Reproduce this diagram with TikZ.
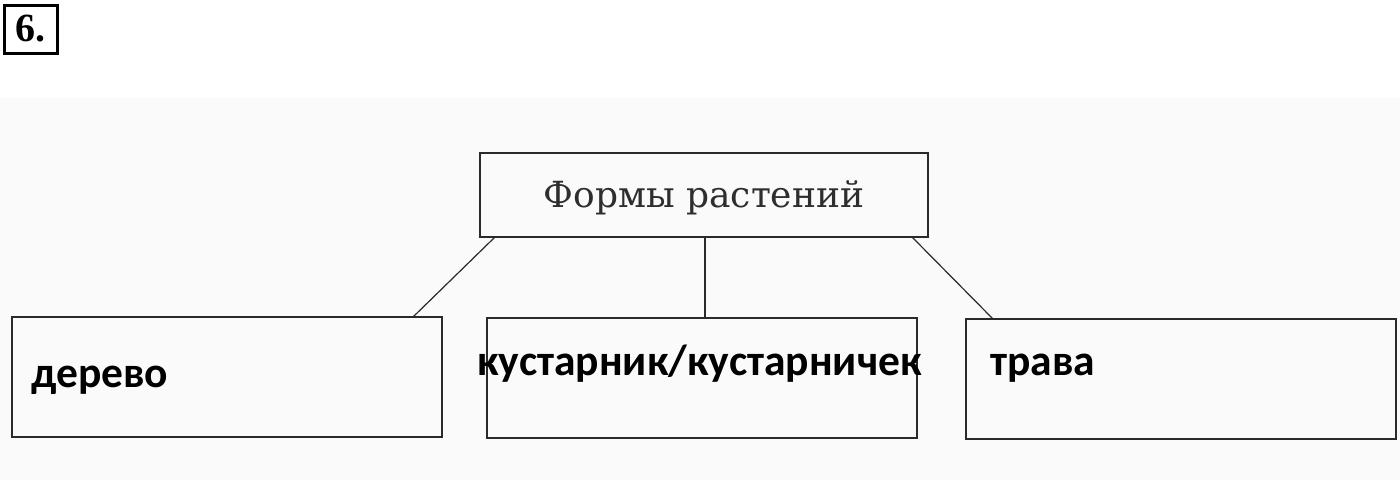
\documentclass[tikz,border=0pt]{standalone}
\usepackage{fontspec}
\newfontfamily\boxfont{Carlito}
\newfontfamily\titlefont{DejaVu Serif}
\newfontfamily\numfont{Liberation Serif}
\definecolor{scanbg}{HTML}{FAFAFA}
\definecolor{titlegray}{HTML}{2E2E2E}
\definecolor{linegray}{HTML}{2A2A2A}
\begin{document}
\begin{tikzpicture}[x=1pt,y=-1pt,
  boxline/.style={draw=linegray,line width=1.4pt},
  leaf/.style={boxline,minimum width=430pt,minimum height=120pt,inner sep=0pt},
  leaftext/.style={anchor=base west,inner sep=0pt,font=\boxfont\bfseries\fontsize{43.5}{43.5}\selectfont},
  link/.style={draw=linegray,line width=1.2pt}]
\useasboundingbox (0,0) rectangle (1400,480);
\fill[white] (0,0) rectangle (1400,480);
\fill[scanbg] (0,98) rectangle (1400,480);
% number
\node[draw=black,line width=3pt,minimum width=53pt,minimum height=48pt,inner sep=0pt,
      font=\numfont\bfseries\fontsize{40}{40}\selectfont] (num) at (31,29) {6.};
% top box
\node[boxline,minimum width=448pt,minimum height=84pt,inner sep=0pt] (top) at (704,195) {};
\node[anchor=base,inner sep=0pt,text=titlegray,
      font=\titlefont\fontsize{36}{36}\selectfont] (title) at (704,207) {Формы растений};
% leaf boxes
\node[leaf] (b1) at (227,377) {};
\node[leaf] (b2) at (702,378) {};
\node[leaf] (b3) at (1181,379) {};
\node[leaftext] (t1) at (31,387) {дерево};
\node[leaftext] (t2) at (477,375) {кустарник/кустарничек};
\node[leaftext] (t3) at (990,375) {трава};
% connectors
\coordinate (c1a) at (495,237); \coordinate (c1b) at (413,317);
\coordinate (c2a) at (705,237); \coordinate (c2b) at (705,318);
\coordinate (c3a) at (912,237); \coordinate (c3b) at (993,319);
\draw[link] (c1a) -- (c1b);
\draw[link] (c2a) -- (c2b);
\draw[link] (c3a) -- (c3b);
\end{tikzpicture}
\end{document}
